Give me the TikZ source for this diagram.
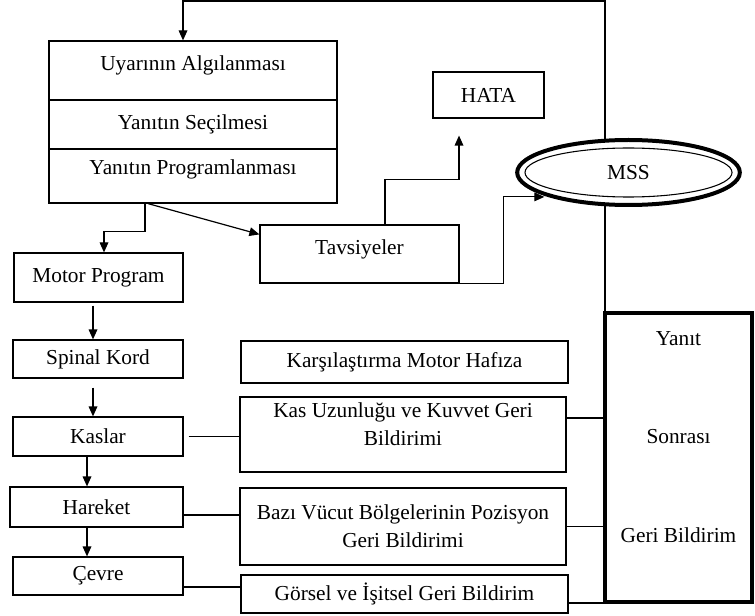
\documentclass[tikz,border=0pt]{standalone}
\usepackage{fontspec}
\setmainfont{Liberation Serif}
\usepackage{tikz}
\usetikzlibrary{calc, positioning, arrows.meta, shapes.geometric, backgrounds}

\newcommand{\dpad}[1]{\rule[-#1]{0pt}{#1}}

\begin{document}
\begin{tikzpicture}[x=0.75pt, y=-0.75pt, font=\fontsize{16}{19}\selectfont,
    blok/.style={draw, rectangle, inner sep=0pt, align=center, line width=0.9pt},
    ok/.style={-{Triangle[length=7.5pt,width=6.5pt]}, line width=0.9pt},
    hat/.style={line width=0.9pt}]
        \useasboundingbox (0,0) rectangle (755,616);
        % ust blok
        \node[blok, minimum width=216pt, minimum height=44.25pt] (algi) at (193,70.5) {Uyarının Algılanması\dpad{11.5pt}};
        \node[blok, minimum width=216pt, minimum height=36.75pt] (secim) at (193,124.5) {Yanıtın Seçilmesi};
        \node[blok, minimum width=216pt, minimum height=40.5pt] (prog) at (193,176) {Yanıtın Programlanması\dpad{13.8pt}};
        \node[blok, minimum width=83.25pt, minimum height=34.5pt] (hata) at (488.5,95) {HATA};
        \node[blok, minimum width=149.25pt, minimum height=43.5pt] (tav) at (359.5,254) {Tavsiyeler\dpad{10pt}};
        \node[draw, ellipse, fill=white, line width=3pt, inner sep=0pt, minimum width=167pt, minimum height=48.75pt] (mss) at (628.5,172.5) {MSS};
        \draw[line width=0.8pt] (mss.center) ellipse [x radius=103.5, y radius=24.5];
        % sol sutun
        \node[blok, minimum width=126.75pt, minimum height=36.75pt] (motor) at (98.5,277.5) {Motor Program};
        \node[blok, minimum width=127.5pt, minimum height=28.5pt] (spinal) at (98,359) {Spinal Kord};
        \node[blok, minimum width=127.5pt, minimum height=29.25pt] (kaslar) at (98,436.5) {Kaslar};
        \node[blok, minimum width=129.75pt, minimum height=30pt] (hareket) at (96.5,507) {Hareket};
        \node[blok, minimum width=127.5pt, minimum height=28.5pt] (cevre) at (98,576) {Çevre};
        % orta sutun
        \node[blok, minimum width=245.25pt, minimum height=31.5pt] (karsi) at (404.5,362) {Karşılaştırma Motor Hafıza};
        \node[blok, minimum width=244.5pt, minimum height=56.25pt] (kas) at (403,434.5) {Kas Uzunluğu ve Kuvvet Geri\\[2pt]Bildirimi\dpad{15.3pt}};
        \node[blok, minimum width=244.5pt, minimum height=57.75pt] (bazi) at (403,526.5) {Bazı Vücut Bölgelerinin Pozisyon\\[2pt]Geri Bildirimi};
        \node[blok, minimum width=245.25pt, minimum height=28.5pt] (gorsel) at (404.5,594) {Görsel ve İşitsel Geri Bildirim};
        \node[blok, line width=3pt, minimum width=110.25pt, minimum height=216.75pt] (yanit) at (678.5,457.5) {Yanıt\\[55pt]Sonrası\\[55pt]Geri Bildirim\dpad{31pt}};
        % oklar
        \begin{scope}[on background layer]
            \draw[ok] ($(yanit.north west)+(2,0)$) -- ++(0,-310) -| ($(algi.north)+(-10,0)$);
        \end{scope}
        \draw[ok] ($(prog.south)+(-48,0)$) -- ++(0,28) -| ($(motor.north)+(5.5,0)$);
        \draw[ok] ($(prog.south)+(-45,0)$) -- ($(tav.north west)+(0,10)$);
        \draw[ok] ($(tav.north)+(25.5,0)$) -- ++(0,-45) -| ($(hata.south)+(-29.5,17)$);
        \draw[ok, shorten >=3pt] (tav.south east) -- ++(44,0) |- (mss.south west);
        \draw[ok] ($(motor.south)+(-5.5,3)$) -- ($(spinal.north)+(-5,0)$);
        \draw[ok] ($(spinal.south)+(-5,9)$) -- ($(kaslar.north)+(-5,0)$);
        \draw[ok] ($(kaslar.south)+(-11,0)$) -- ($(hareket.north)+(-9.5,0)$);
        \draw[ok] ($(hareket.south)+(-9.5,0)$) -- ($(cevre.north)+(-11,0)$);
        % geri bildirim hatlari
        \coordinate (k1) at ($(kaslar.east)+(5,0)$);
        \coordinate (h1) at ($(hareket.east)+(0,8)$);
        \coordinate (c1) at ($(cevre.east)+(0,11)$);
        \draw[hat] (k1) -- (k1 -| kas.west);
        \draw[hat] (h1) -- (h1 -| bazi.west);
        \draw[hat] (c1) -- (c1 -| gorsel.west);
        \coordinate (k2) at ($(kas.east)+(0,-16.5)$);
        \coordinate (g2) at ($(gorsel.east)+(0,9)$);
        \draw[hat] (k2) -- (k2 -| yanit.west);
        \draw[hat] (bazi.east) -- (bazi.east -| yanit.west);
        \draw[hat] (g2) -- (g2 -| yanit.west);
\end{tikzpicture}
\end{document}
